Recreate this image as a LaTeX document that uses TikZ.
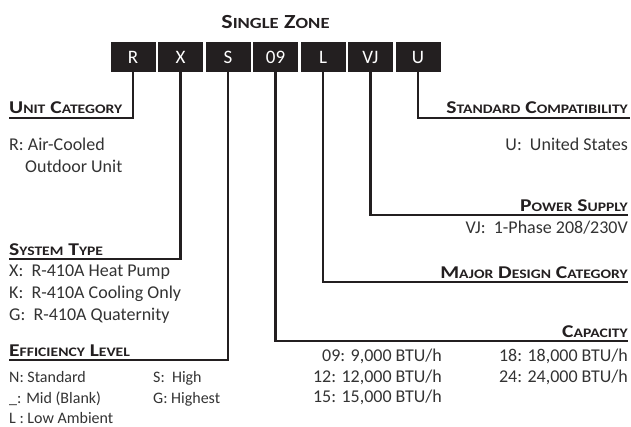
\documentclass[tikz,border=0pt]{standalone}
\usepackage{fontspec}
\setmainfont{Carlito}
\newfontfamily\hdfont[FakeStretch=1.2]{Carlito}
\usetikzlibrary{positioning}
\definecolor{ink}{HTML}{231F20}
\definecolor{txtgray}{HTML}{333333}
\newcommand\smc[2][13]{{\fontsize{#1}{#1}\selectfont #2}}

\begin{document}
\begin{tikzpicture}[x=1pt,y=-1pt,
  code/.style={fill=ink,text=white,minimum width=45pt,minimum height=30pt,inner sep=0pt,font=\fontsize{19}{19}\selectfont},
  head/.style={inner sep=0pt,text=ink,font=\hdfont\fontsize{18}{18}\selectfont\bfseries},
  item/.style={inner sep=0pt,text=txtgray,font=\fontsize{18}{22}\selectfont},
  small/.style={inner sep=0pt,text=txtgray,font=\fontsize{16}{20}\selectfont},
  link/.style={draw=ink,line width=2.2pt}]
\useasboundingbox (0,0) rectangle (631,426);
\node[head,font=\hdfont\fontsize{20}{20}\selectfont\bfseries] (title) at (275.5,22) {S\smc[15.5]{INGLE} Z\smc[15.5]{ONE}};
\foreach \n/\t [count=\i from 0] in {r/R,x/X,s/S,cap/09,l/L,vj/VJ,u/U}
  \node[code] (\n) at (133+47.5*\i,57) {\t};

\coordinate (ucat) at (9,118);
\coordinate (sys) at (9,259);
\coordinate (eff) at (9,360);
\coordinate (capc) at (628,341);
\coordinate (mdc) at (628,282);
\coordinate (pwr) at (628,215);
\coordinate (scomp) at (630,118);
\draw[link] (r.south) |- (ucat);
\draw[link] (x.south) |- (sys);
\draw[link] (s.south) |- (eff);
\draw[link] (cap.south) |- (capc);
\draw[link] (l.south) |- (mdc);
\draw[link] (vj.south) |- (pwr);
\draw[link] (u.south) |- (scomp);

\node[head,anchor=base west] (ucath) at (9,113) {U\smc{NIT} C\smc{ATEGORY}};
\node[item,anchor=base west] (uc1) at (9,150) {R: Air-Cooled};
\node[item,anchor=base west] (uc2) at (25,172) {Outdoor Unit};

\node[head,anchor=base west] (sysh) at (9,255) {S\smc{YSTEM} T\smc{YPE}};
\foreach \t [count=\i from 0] in {X:\ \ R-410A Heat Pump,K:\ \ R-410A Cooling Only,G:\ \ R-410A Quaternity}
  \node[item,anchor=base west] (sys\i) at (9,276+22*\i) {\t};

\node[head,anchor=base west] (effh) at (9,356) {E\smc{FFICIENCY} L\smc{EVEL}};
\node[small,anchor=base west] (eff1) at (9,382) {N: Standard};
\node[small,anchor=base west] (eff2) at (9,403) {\_: Mid (Blank)};
\node[small,anchor=base west] (eff3) at (9,423) {L : Low Ambient};
\node[small,anchor=base west] (eff4) at (153,382) {S:\ \ High};
\node[small,anchor=base west] (eff5) at (153,403) {G: Highest};

\node[head,anchor=base east] (scomph) at (628,113) {S\smc{TANDARD} C\smc{OMPATIBILITY}};
\node[item,anchor=base east] (sc1) at (628,150) {U:\ \ United States};

\node[head,anchor=base east] (pwrh) at (628,211) {P\smc{OWER} S\smc{UPPLY}};
\node[item,anchor=base east] (pw1) at (628,233) {VJ:\ \ 1-Phase 208/230V};

\node[head,anchor=base east] (mdch) at (628,278) {M\smc{AJOR} D\smc{ESIGN} C\smc{ATEGORY}};

\node[head,anchor=base east] (caph) at (628,337) {C\smc{APACITY}};
\node[item,anchor=base east] (cp1) at (442,361) {09: 9,000 BTU/h};
\node[item,anchor=base east] (cp2) at (442,382) {12: 12,000 BTU/h};
\node[item,anchor=base east] (cp3) at (442,402) {15: 15,000 BTU/h};
\node[item,anchor=base east] (cp4) at (628,361) {18: 18,000 BTU/h};
\node[item,anchor=base east] (cp5) at (628,382) {24: 24,000 BTU/h};
\end{tikzpicture}
\end{document}
